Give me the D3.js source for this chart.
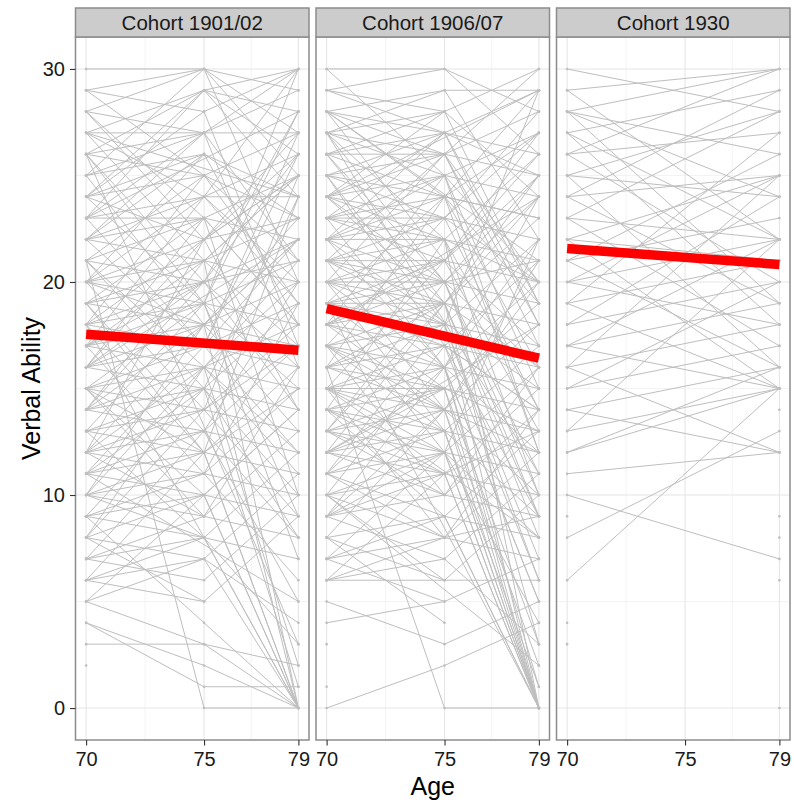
<!DOCTYPE html>
<html>
<head>
<meta charset="utf-8">
<script src="https://cdn.jsdelivr.net/npm/d3@7"></script>
<style>
  html, body { margin: 0; padding: 0; background: #fff; }
  svg { display: block; font-family: "Liberation Sans", Arial, sans-serif; }
</style>
</head>
<body>
<svg id="chart" width="794" height="805"></svg>
<script>
// Measurement ages and tick labels
const ages = [70, 75, 79];
const xTicks = [70, 75, 79];
const yTicks = [0, 10, 20, 30];
const cohortLabels = ["Cohort 1901/02", "Cohort 1906/07", "Cohort 1930"];

// Verbal ability per person: [age 70, age 75, age 79], null = not measured
const cohort1901 = [
  [29,30,29],[30,30,27],[29,28,30],[28,30,25],[27,29,28],[27,27,30],[26,29,24],[26,27,27],[25,27,29],[25,26,23],
  [24,29,26],[24,25,27],[24,22,25],[23,27,21],[23,24,26],[23,23,22],[22,26,24],[22,21,23],[22,24,20],[21,23,25],
  [21,20,22],[21,25,19],[20,22,23],[20,19,21],[20,21,17],[20,24,24],[19,21,20],[19,18,22],[19,20,16],[19,23,18],
  [18,20,21],[18,17,19],[18,19,15],[18,22,14],[17,19,18],[17,16,20],[17,18,13],[17,21,0],[16,18,17],[16,15,19],
  [16,17,12],[16,20,14],[15,17,16],[15,14,18],[15,16,11],[15,19,9],[14,16,15],[14,13,17],[14,15,10],[14,18,0],
  [13,15,14],[13,12,16],[13,14,9],[12,14,13],[12,11,15],[12,13,8],[12,16,2],[11,13,12],[11,10,14],[11,12,0],
  [10,12,11],[10,9,13],[10,11,6],[9,11,10],[9,8,12],[9,10,0],[8,10,9],[8,7,11],[7,9,8],[7,6,10],[7,8,0],
  [6,8,7],[6,5,9],[6,7,0],[5,7,4],[5,3,0],[4,1,1],[3,3,2],[2,null,null],[21,0,0],[4,2,0],
  [28,22,26],[27,21,25],[26,20,28],[25,18,22],[24,28,17],[23,17,27],[22,27,16],[21,15,24],[20,26,18],[19,13,20],
  [18,25,23],[17,11,19],[16,23,10],[15,9,16],[14,21,25],[13,19,7],[12,18,20],[11,17,22],[10,16,18],[9,15,8],
  [8,14,17],[7,13,5],[6,12,15],[5,10,14],[26,19,30],[25,30,20],[23,29,30],[29,25,21],[27,24,19],[24,19,28],
  [22,17,26],[20,14,25],[18,12,24],[16,22,27],[14,20,26],[12,22,25],[10,18,23],[8,16,21],[28,23,18],[17,24,30],
  [13,8,3],[11,15,1],[19,12,0],[15,10,0],[9,4,0],
  [28,27,null],[26,25,null],[24,26,null],[22,23,null],[20,18,null],[17,20,null],[15,12,null],[12,9,null],
  [10,8,null],[8,5,null],[19,null,null],[25,null,null],[13,null,null],
  [27,null,24],[23,null,28],[16,null,22],[21,null,12],[11,null,5],[26,null,3],[18,null,0]
];

const cohort1906 = [
  [30,30,28],[29,28,30],[29,30,26],[28,29,29],[28,27,25],[28,26,28],[27,28,24],[27,25,27],[27,29,22],[26,27,26],
  [26,24,29],[26,26,20],[25,26,25],[25,23,27],[25,27,19],[25,24,23],[24,25,24],[24,22,26],[24,26,18],[24,20,21],
  [23,24,23],[23,21,25],[23,25,15],[23,23,20],[22,23,22],[22,20,24],[22,24,12],[22,22,0],[21,22,21],[21,19,23],
  [21,23,14],[21,21,17],[21,18,0],[20,21,20],[20,18,22],[20,22,10],[20,20,16],[20,16,0],[19,20,19],[19,17,21],
  [19,21,13],[19,19,8],[19,15,0],[18,19,18],[18,16,20],[18,20,11],[18,17,14],[18,14,0],[17,18,17],[17,15,19],
  [17,19,9],[17,16,12],[17,13,0],[16,17,16],[16,14,18],[16,18,7],[16,15,13],[15,16,15],[15,13,17],[15,17,6],
  [15,14,10],[15,12,0],[14,15,14],[14,12,16],[14,16,5],[14,13,9],[13,14,13],[13,11,15],[13,15,3],[13,12,8],
  [12,13,12],[12,10,14],[12,14,2],[12,11,0],[11,12,11],[11,9,13],[11,13,1],[10,11,10],[10,8,12],[10,12,0],
  [9,10,9],[9,7,11],[9,11,0],[8,9,8],[8,6,10],[7,8,7],[7,9,0],[6,6,6],[6,7,3],[6,8,9],
  [5,3,5],[4,5,7],[3,null,null],[1,null,null],[0,2,4],[16,0,0],[19,null,0],
  [28,21,27],[27,20,25],[26,19,24],[25,18,29],[24,28,19],[23,16,22],[22,27,18],[21,14,20],[20,26,17],[19,12,22],
  [18,25,12],[17,10,16],[16,24,19],[15,8,14],[14,22,20],[13,20,9],[12,19,16],[11,18,6],[10,17,14],[9,16,5],
  [8,14,12],[7,12,4],[6,11,13],[26,20,10],[24,19,3],[22,16,1],[20,13,0],[27,22,14],[25,17,9],[23,27,29],
  [21,26,30],[19,24,27],[17,23,28],[15,21,26],[13,19,25],[11,16,24],[9,14,21],[30,25,20],[28,24,16],[14,9,0],
  [29,27,null],[27,26,null],[26,28,null],[24,23,null],[23,22,null],[22,25,null],[21,20,null],[20,19,null],
  [19,18,null],[18,21,null],[17,14,null],[16,19,null],[15,15,null],[14,11,null],[13,10,null],[12,15,null],
  [11,8,null],[10,6,null],[9,12,null],[8,4,null],[7,5,null],[20,null,null],[25,null,null],[14,null,null],[26,null,null],
  [28,null,21],[24,null,29],[22,null,15],[18,null,24],[15,null,8],[12,null,18],[27,null,11],[10,null,2]
];

const cohort1930 = [
  [30,null,28],[29,null,30],[29,null,22],[28,null,26],[28,null,19],[28,null,24],[28,null,30],[27,null,29],[27,null,18],[27,null,22],
  [26,null,27],[26,null,30],[26,null,20],[25,null,24],[25,null,28],[25,null,16],[24,null,25],[24,null,29],[24,null,19],[23,null,22],
  [23,null,28],[23,null,17],[22,null,21],[22,null,25],[22,null,15],[21,null,23],[21,null,26],[21,null,16],[20,null,22],[20,null,25],
  [20,null,18],[19,null,21],[19,null,27],[19,null,15],[18,null,20],[18,null,24],[17,null,19],[17,null,22],[17,null,15],[16,null,18],
  [16,null,25],[16,null,12],[15,null,17],[15,null,20],[14,null,16],[14,null,12],[13,null,15],[13,null,22],[12,null,15],[12,null,16],
  [11,null,12],[10,null,7],[8,null,13],[6,null,15],
  [9,null,null],[4,null,null],[3,null,null],
  [null,null,14],[null,null,9],[null,null,8],[null,null,6],[null,null,0]
];

// Linear trend per cohort: fitted value at age 70 and at age 79
const trend1901 = [17.55, 16.8];
const trend1906 = [18.75, 16.42];
const trend1930 = [21.57, 20.82];

const cohorts = [cohort1901, cohort1906, cohort1930];
const trends = [trend1901, trend1906, trend1930];

const svg = d3.select("#chart");

const panelLeft = 75.5, panelW = 233.5, gap = 7;
const stripTop = 8, stripH = 29, panelTop = stripTop + stripH, panelBottom = 740;

const y = d3.scaleLinear().domain([-1.5, 31.5]).range([panelBottom, panelTop]);

const border = "#8c8c8c";
const lineGrey = "#bebebe";
const tickFont = 20;

cohorts.forEach((people, i) => {
  const x0 = panelLeft + i * (panelW + gap);
  const x = d3.scaleLinear().domain([69.55, 79.45]).range([x0, x0 + panelW]);
  const g = svg.append("g");

  // panel background
  g.append("rect").attr("x", x0).attr("y", panelTop).attr("width", panelW)
    .attr("height", panelBottom - panelTop).attr("fill", "#fff");

  // minor grid
  const xMinor = [72.5, 77];
  const yMinor = [5, 15, 25];
  g.selectAll(".xminor").data(xMinor).join("line")
    .attr("x1", d => x(d)).attr("x2", d => x(d))
    .attr("y1", panelTop).attr("y2", panelBottom)
    .attr("stroke", "#f3f3f3").attr("stroke-width", 1);
  g.selectAll(".yminor").data(yMinor).join("line")
    .attr("x1", x0).attr("x2", x0 + panelW)
    .attr("y1", d => y(d)).attr("y2", d => y(d))
    .attr("stroke", "#f3f3f3").attr("stroke-width", 1);
  // major grid
  g.selectAll(".xmajor").data(xTicks).join("line")
    .attr("x1", d => x(d)).attr("x2", d => x(d))
    .attr("y1", panelTop).attr("y2", panelBottom)
    .attr("stroke", "#e6e6e6").attr("stroke-width", 1.1);
  g.selectAll(".ymajor").data(yTicks).join("line")
    .attr("x1", x0).attr("x2", x0 + panelW)
    .attr("y1", d => y(d)).attr("y2", d => y(d))
    .attr("stroke", "#e6e6e6").attr("stroke-width", 1.1);

  // individual trajectories
  const line = d3.line().x(d => x(d.age)).y(d => y(d.v));
  const paths = people.map(p => ages.map((a, k) => ({ age: a, v: p[k] })).filter(d => d.v !== null));
  g.append("g").selectAll("path").data(paths.filter(p => p.length > 1)).join("path")
    .attr("d", line)
    .attr("fill", "none").attr("stroke", lineGrey).attr("stroke-width", 1);

  // observation points
  const pts = paths.flat();
  g.append("g").selectAll("circle").data(pts).join("circle")
    .attr("cx", d => x(d.age)).attr("cy", d => y(d.v)).attr("r", 1.3)
    .attr("fill", lineGrey);

  // cohort trend
  const t = trends[i];
  g.append("line")
    .attr("x1", x(70)).attr("y1", y(t[0]))
    .attr("x2", x(79)).attr("y2", y(t[1]))
    .attr("stroke", "#ff0000").attr("stroke-width", 9.5);

  // panel border
  g.append("rect").attr("x", x0).attr("y", panelTop).attr("width", panelW)
    .attr("height", panelBottom - panelTop).attr("fill", "none")
    .attr("stroke", border).attr("stroke-width", 1.5);

  // strip
  g.append("rect").attr("x", x0).attr("y", stripTop).attr("width", panelW)
    .attr("height", stripH).attr("fill", "#cccccc")
    .attr("stroke", border).attr("stroke-width", 1.5);
  g.append("text").attr("x", x0 + panelW / 2).attr("y", 30)
    .attr("text-anchor", "middle").attr("font-size", 20.5).attr("fill", "#1a1a1a")
    .text(cohortLabels[i]);

  // x axis
  const xAxis = d3.axisBottom(x).tickValues(xTicks).tickSize(5.5).tickPadding(6).tickFormat(d3.format("d"));
  const ax = g.append("g").attr("transform", `translate(0,${panelBottom})`).call(xAxis);
  ax.select(".domain").remove();
  ax.selectAll(".tick line").attr("stroke", "#333").attr("stroke-width", 1.1);
  ax.selectAll(".tick text").attr("font-size", tickFont).attr("fill", "#1a1a1a")
    .attr("font-family", "Liberation Sans, Arial, sans-serif");
});

// y axis on the first panel
const yAxis = d3.axisLeft(y).tickValues(yTicks).tickSize(5.5).tickPadding(5);
const ay = svg.append("g").attr("transform", `translate(${panelLeft},0)`).call(yAxis);
ay.select(".domain").remove();
ay.selectAll(".tick line").attr("stroke", "#333").attr("stroke-width", 1.1);
ay.selectAll(".tick text").attr("font-size", tickFont).attr("fill", "#1a1a1a")
  .attr("font-family", "Liberation Sans, Arial, sans-serif");

// axis titles
svg.append("text").attr("x", (panelLeft + panelLeft + 3 * panelW + 2 * gap) / 2).attr("y", 795)
  .attr("text-anchor", "middle").attr("font-size", 25).attr("fill", "#000").text("Age");
svg.append("text").attr("transform", `translate(40,${(panelTop + panelBottom) / 2}) rotate(-90)`)
  .attr("text-anchor", "middle").attr("font-size", 25).attr("fill", "#000").text("Verbal Ability");
</script>
</body>
</html>
